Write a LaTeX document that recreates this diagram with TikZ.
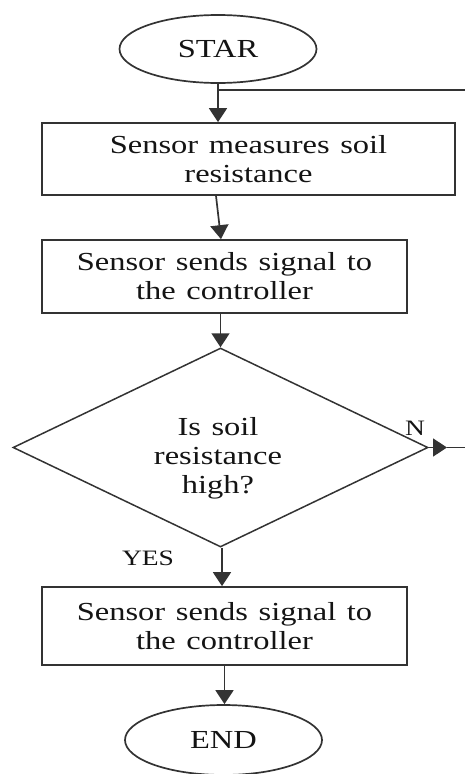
\documentclass[tikz,border=0pt]{standalone}
\usepackage{fontspec}
\setmainfont{Liberation Serif}[FakeStretch=1.25, WordSpace=1.3]
\usetikzlibrary{shapes.geometric,arrows.meta,calc}

\begin{document}
\begin{tikzpicture}[x=1pt,y=-1pt,
  line/.style={line width=1.7pt, draw=black!80},
  flow/.style={line, -{Triangle[width=18pt,length=14pt]}},
  txt/.style={font=\fontsize{26}{29}\selectfont, text=black!92},
  lbl/.style={font=\fontsize{22}{24}\selectfont, text=black!92},
  terminal/.style={ellipse, line, txt, minimum width=197pt, minimum height=68pt, inner sep=0pt},
  process/.style={rectangle, line, txt, align=center, inner sep=0pt},
  decision/.style={diamond, line, line width=1.5pt, inner sep=0pt, minimum width=415pt, minimum height=199pt},
]
\useasboundingbox (0,0) rectangle (465,774);

% terminals, process boxes and the decision
\node[terminal] (start) at (218,49) {STAR};
\node[process, minimum width=413pt, minimum height=72pt] (box1) at (248.5,159)
  {Sensor measures soil\\resistance};
\node[process, minimum width=365pt, minimum height=73pt] (box2) at (224.5,276.5)
  {Sensor sends signal to\\the controller};
\node[decision] (dia) at (220.5,447.5) {};
\node[txt, align=center] (q) at (218,458) {Is soil\\resistance\\high?};
\node[process, minimum width=365pt, minimum height=78pt] (box3) at (224.5,626)
  {Sensor sends signal to\\the controller};
\node[terminal, minimum height=70pt] (stop) at (223.5,740) {END};

% branch labels
\node[lbl] (no) at (415,428) {N};
\node[lbl] (yes) at (148,558) {YES};

% loop-back line and the outgoing N branch
\coordinate (loop) at (465,90);
\coordinate (nTip) at (447,447.5);
\coordinate (nEnd) at (465,447.5);

% connectors
\draw[flow] (start.south) -- (start.south |- box1.north);
\draw[line] (start.south |- loop) -- (loop);
\draw[flow] ([xshift=-2pt]start.south |- box1.south) -- ([xshift=-3.5pt]box2.north);
\draw[flow] (dia.north |- box2.south) -- (dia.north);
\draw[flow] (dia.east) -- (nTip);
\draw[line] (nTip) -- (nEnd);
\draw[flow] ([xshift=1.5pt]dia.south) -- ([xshift=1.5pt]dia.south |- box3.north);
\draw[flow] (box3.south) -- (box3.south |- stop.north);
\end{tikzpicture}
\end{document}
